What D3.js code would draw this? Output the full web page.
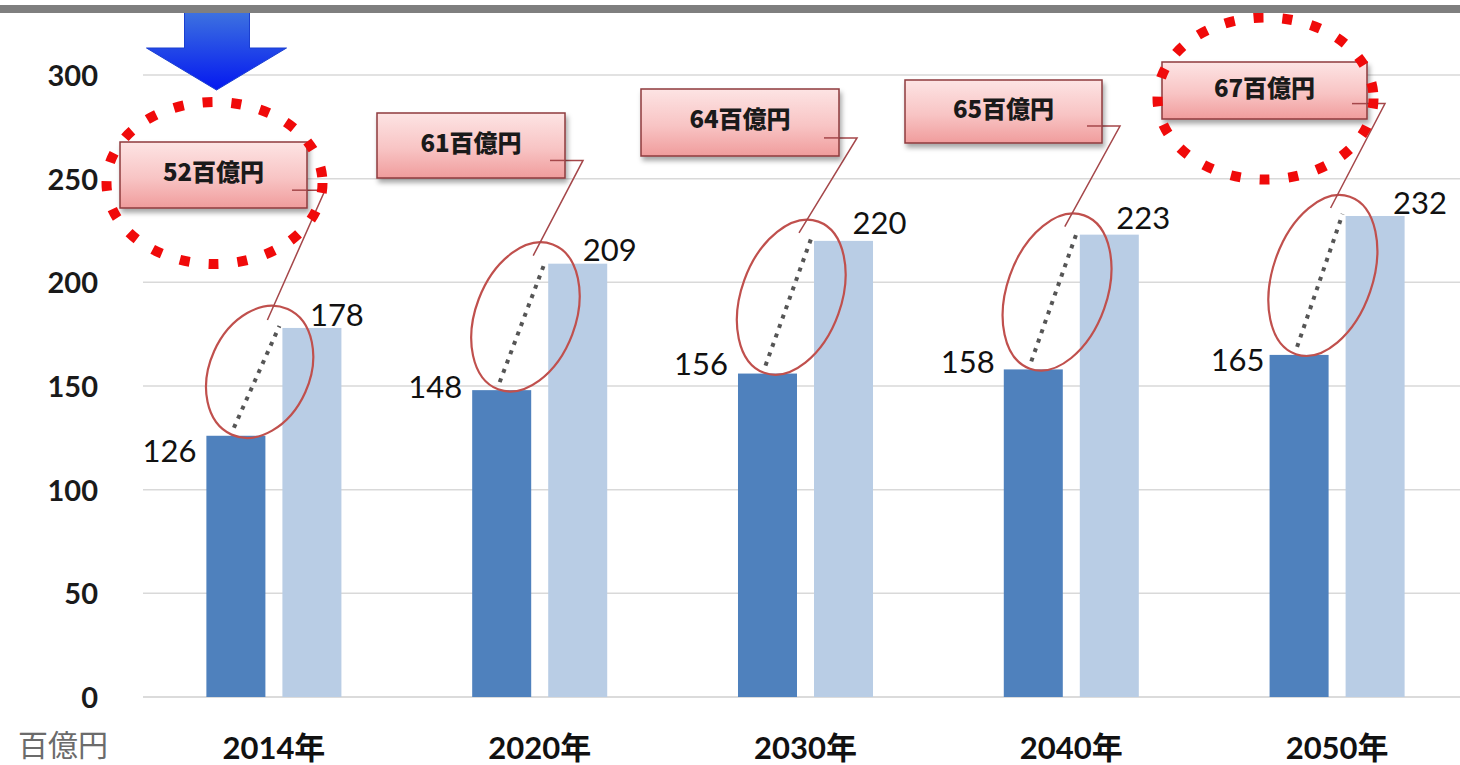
<!DOCTYPE html>
<html><head><meta charset="utf-8">
<script src="https://cdn.jsdelivr.net/npm/d3@7"></script>
<style>html,body{margin:0;padding:0;background:#fff;}svg{display:block;}</style>
</head><body>
<svg id="chart" width="1460" height="765"></svg>
<script>
// ---- data ----
const categories = ["2014年", "2020年", "2030年", "2040年", "2050年"];
const seriesDark = [126, 148, 156, 158, 165];
const seriesLight = [178, 209, 220, 223, 232];
const yTicks = [0, 50, 100, 150, 200, 250, 300];
const unitLabel = "百億円";
const highlighted = [0, 4];

// ---- layout (annotation placement, not data) ----
const boxes = [
  {x: 120, y: 142, w: 187, h: 66},
  {x: 377, y: 113, w: 188, h: 65},
  {x: 641, y: 89, w: 198, h: 67},
  {x: 905, y: 80, w: 197, h: 63},
  {x: 1162, y: 62, w: 205, h: 57}
];
const darkNudge = [[-10, 15], [-10, -3], [-10, -10], [-9, -8], [-5, 5]];
const lightNudge = [[-2, -1], [5, -2], [9, -6], [7, -5], [18, -1]];

const svg = d3.select("#chart");
const W = 1460, H = 765;

const defs = svg.append("defs");
const pg = defs.append("linearGradient").attr("id", "pink").attr("x1", 0).attr("y1", 0).attr("x2", 0).attr("y2", 1);
pg.append("stop").attr("offset", "0%").attr("stop-color", "#fde4e4");
pg.append("stop").attr("offset", "55%").attr("stop-color", "#f8c4c4");
pg.append("stop").attr("offset", "100%").attr("stop-color", "#f09c9c");
const bg = defs.append("linearGradient").attr("id", "blue").attr("x1", 0).attr("y1", 0).attr("x2", 0).attr("y2", 1);
bg.append("stop").attr("offset", "0%").attr("stop-color", "#3d72e0");
bg.append("stop").attr("offset", "100%").attr("stop-color", "#0418f0");
const sh = defs.append("filter").attr("id", "shadow").attr("x", "-10%").attr("y", "-10%").attr("width", "130%").attr("height", "140%");
sh.append("feDropShadow").attr("dx", 2).attr("dy", 4).attr("stdDeviation", 2.5).attr("flood-color", "#000").attr("flood-opacity", 0.35);

// scales
const x = d3.scaleBand().domain(categories).range([141, 1470]).paddingInner(0.492).paddingOuter(0.246);
const xs = d3.scaleBand().domain(["dark", "light"]).range([0, x.bandwidth()]).paddingInner(0.2237);
const y = d3.scaleLinear().domain([0, 300]).range([697, 75]);

// top gray rule
svg.append("rect").attr("x", 0).attr("y", 5).attr("width", W).attr("height", 8).attr("fill", "#7f7f7f");

// gridlines
svg.append("g").selectAll("line").data(yTicks).join("line")
  .attr("x1", 143).attr("x2", W)
  .attr("y1", d => y(d)).attr("y2", d => y(d))
  .attr("stroke", d => d === 0 ? "#cfcfcf" : "#d9d9d9").attr("stroke-width", 1.5);

// y axis labels via d3 axis
const yAxis = svg.append("g").attr("transform", "translate(98,0)")
  .call(d3.axisLeft(y).tickValues(yTicks).tickSize(0).tickPadding(0));
yAxis.select(".domain").remove();
yAxis.selectAll("text").attr("font-family", "Lato, 'Noto Sans', sans-serif").attr("font-weight", 700)
  .attr("font-size", 29).attr("fill", "#1a1a1a").attr("dy", "0.36em");

// x axis labels
const xAxis = svg.append("g").attr("transform", "translate(0,697)")
  .call(d3.axisBottom(x).tickSize(0).tickPadding(0));
xAxis.select(".domain").remove();
xAxis.selectAll("text").attr("font-family", "Lato, 'Noto Sans CJK JP', sans-serif").attr("font-weight", 700)
  .attr("font-size", 31).attr("fill", "#111").attr("dy", "62");

// unit label
svg.append("text").attr("x", 63).attr("y", 756).attr("text-anchor", "middle")
  .attr("font-family", "'Noto Sans CJK JP', sans-serif").attr("font-size", 30).attr("fill", "#6b6b6b").text(unitLabel);

// bars
const rows = categories.map((c, i) => ({c, i, dark: seriesDark[i], light: seriesLight[i], diff: seriesLight[i] - seriesDark[i]}));
const g = svg.append("g");
g.selectAll("rect.dark").data(rows).join("rect").attr("class", "dark")
  .attr("x", d => x(d.c) + xs("dark")).attr("width", xs.bandwidth())
  .attr("y", d => y(d.dark)).attr("height", d => y(0) - y(d.dark)).attr("fill", "#4f81bd");
g.selectAll("rect.light").data(rows).join("rect").attr("class", "light")
  .attr("x", d => x(d.c) + xs("light")).attr("width", xs.bandwidth())
  .attr("y", d => y(d.light)).attr("height", d => y(0) - y(d.light)).attr("fill", "#b9cde5");

const font = "Lato, 'Noto Sans', sans-serif";
// value labels
g.selectAll("text.dv").data(rows).join("text").attr("class", "dv")
  .attr("x", d => x(d.c) + xs("dark") + darkNudge[d.i][0])
  .attr("y", d => y(d.dark) + darkNudge[d.i][1])
  .attr("dy", "0.36em").attr("text-anchor", "end")
  .attr("font-family", font).attr("font-size", 31).attr("fill", "#111").text(d => d.dark);
g.selectAll("text.lv").data(rows).join("text").attr("class", "lv")
  .attr("x", d => x(d.c) + xs("light") + xs.bandwidth() / 2 + lightNudge[d.i][0])
  .attr("y", d => y(d.light) - 1 + lightNudge[d.i][1])
  .attr("text-anchor", "start")
  .attr("font-family", font).attr("font-size", 31).attr("fill", "#111").text(d => d.light);

// difference annotations
rows.forEach(d => {
  const x0 = x(d.c) + xs("dark") + xs.bandwidth() / 2 - 2, y0 = y(d.dark) - 8;
  const x1 = x(d.c) + xs("light") - 3, y1 = y(d.light) - 2;
  g.append("line").attr("x1", x0).attr("y1", y0).attr("x2", x1).attr("y2", y1)
    .attr("stroke", "#555").attr("stroke-width", 4).attr("stroke-dasharray", "4,6");
  const len = Math.hypot(x1 - x0, y1 - y0);
  const ang = Math.atan2(y1 - y0, x1 - x0) * 180 / Math.PI;
  const cx = (x0 + x1) / 2 + 3, cy = (y0 + y1) / 2 - 5;
  g.append("ellipse").attr("cx", 0).attr("cy", 0).attr("rx", len / 2 + 13).attr("ry", 50)
    .attr("transform", `translate(${cx},${cy}) rotate(${ang})`)
    .attr("fill", "none").attr("stroke", "#c0504d").attr("stroke-width", 2.2);
  // leader line
  const b = boxes[d.i];
  const ly = b.y + b.h * 0.73;
  const ex = x(d.c) + xs("light") - 15, ey = y(d.light) - 8;
  g.append("polyline").attr("points", `${b.x + b.w - 15},${ly} ${b.x + b.w + 18},${ly} ${ex},${ey}`)
    .attr("fill", "none").attr("stroke", "#a5474a").attr("stroke-width", 1.5);
});

// callout boxes
const cb = svg.append("g");
rows.forEach(d => {
  const b = boxes[d.i];
  cb.append("rect").attr("x", b.x).attr("y", b.y).attr("width", b.w).attr("height", b.h)
    .attr("fill", "url(#pink)").attr("stroke", "#8e3b3d").attr("stroke-width", 1.5).attr("filter", "url(#shadow)");
  const ly = b.y + b.h * 0.73;
  cb.append("line").attr("x1", b.x + b.w - 15).attr("x2", b.x + b.w).attr("y1", ly).attr("y2", ly)
    .attr("stroke", "#a5474a").attr("stroke-width", 1.5);
  cb.append("text").attr("x", b.x + b.w / 2).attr("y", b.y + b.h * 0.46).attr("dy", "0.36em")
    .attr("text-anchor", "middle").attr("font-family", "'Noto Sans CJK JP', sans-serif").attr("font-weight", 900)
    .attr("font-size", 24).attr("fill", "#1a1a1a").text(d.diff + "百億円");
});

// red dotted highlight circles
highlighted.forEach(i => {
  const b = boxes[i];
  svg.append("ellipse").attr("cx", b.x + b.w / 2 + 1).attr("cy", b.y + b.h / 2 + 8)
    .attr("rx", 108).attr("ry", 81).attr("fill", "none")
    .attr("stroke", "#f00a0a").attr("stroke-width", 10).attr("stroke-dasharray", "10,19");
});

// blue arrow pointing at first category
{
  const b = boxes[0];
  const cx = b.x + b.w / 2 + 3;
  const pts = [[cx - 32, 12], [cx + 33, 12], [cx + 33, 48], [cx + 70, 48], [cx, 90], [cx - 70, 48], [cx - 32, 48]];
  svg.append("polygon").attr("points", pts.map(p => p.join(",")).join(" "))
    .attr("fill", "url(#blue)").attr("stroke", "#1a3fd0").attr("stroke-width", 1);
  svg.append("rect").attr("x", 0).attr("y", 5).attr("width", W).attr("height", 8).attr("fill", "#7f7f7f");
}
</script>
</body></html>
